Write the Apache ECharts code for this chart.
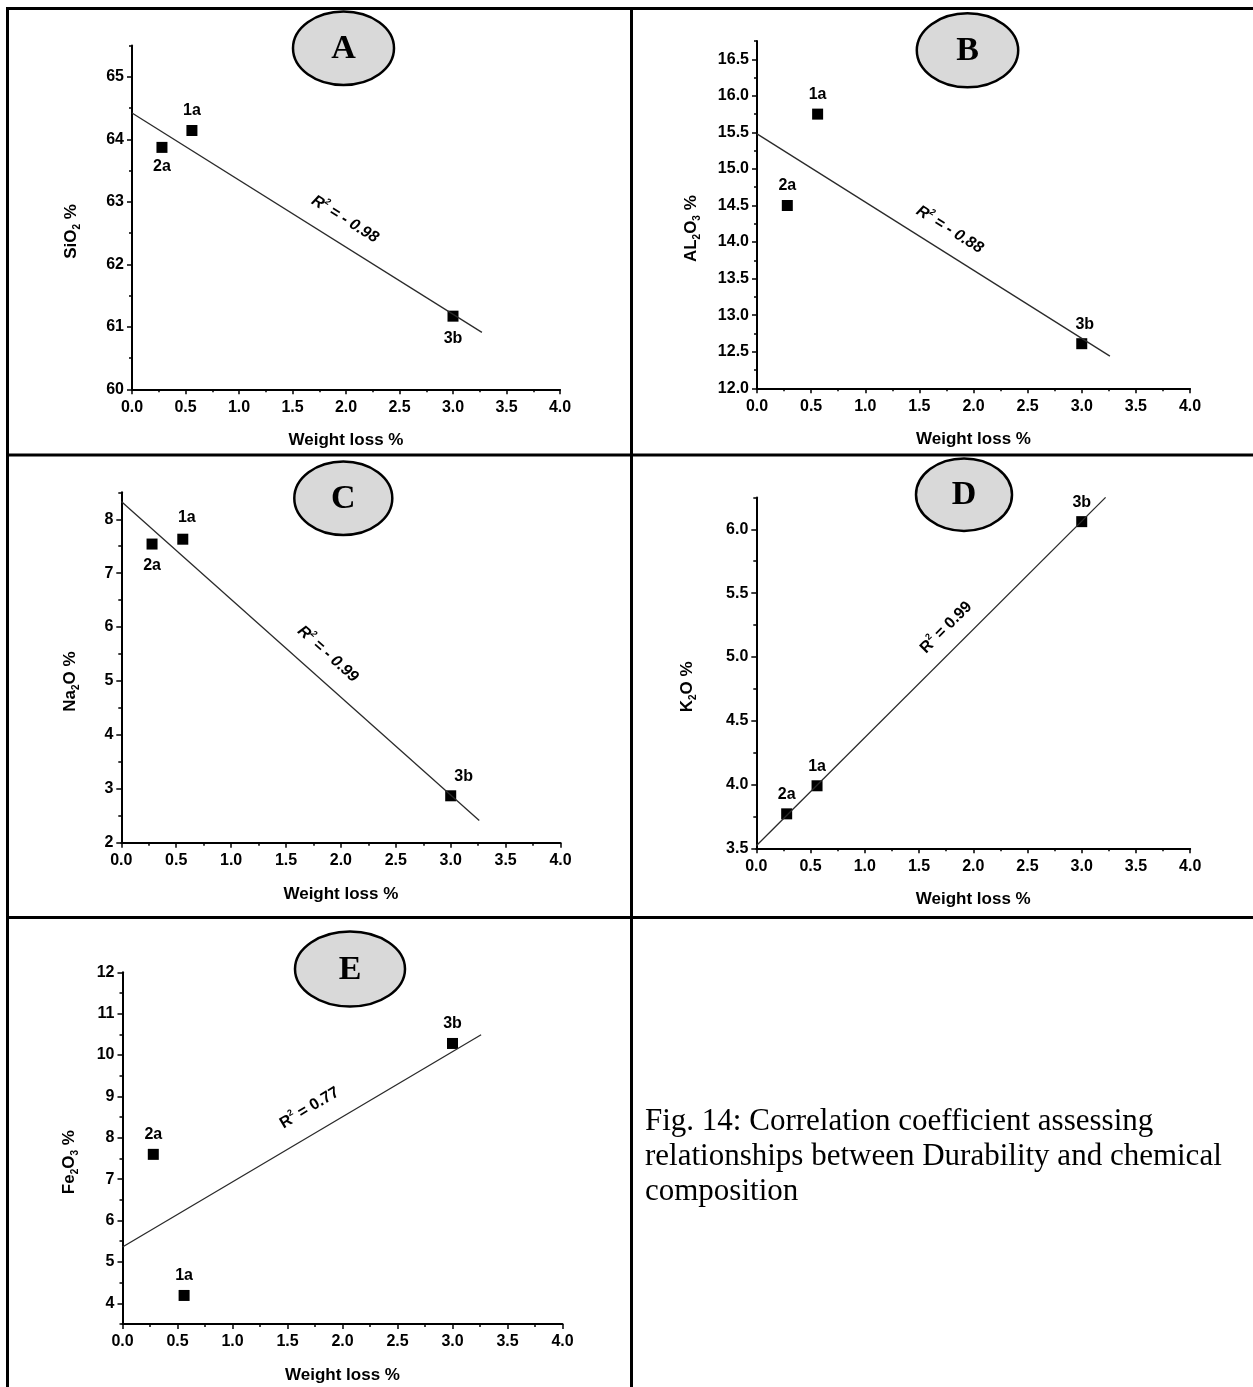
<!DOCTYPE html>
<html><head><meta charset="utf-8">
<script src="https://cdn.jsdelivr.net/npm/echarts@6/dist/echarts.min.js"></script>
<style>html,body{margin:0;padding:0;background:#fff}#c{width:1253px;height:1387px}</style>
</head><body><div id="c"></div>
<script>
// ---------- DATA ----------
const samples = ['1a', '2a', '3b'];
const weightLoss = [0.56, 0.28, 3.0];
const sio2  = [64.14, 63.87, 61.17];
const al2o3 = [15.75, 14.50, 12.61];
const na2o  = [7.63, 7.54, 2.87];
const k2o   = [3.99, 3.77, 6.06];
const fe2o3 = [4.19, 7.60, 10.28];

// fitted lines (end points)
const fitXA = [0, 3.27], fitYA = [64.42, 60.91];
const fitXB = [0, 3.26], fitYB = [15.48, 12.44];
const fitXC = [0, 3.26], fitYC = [8.33, 2.41];
const fitXD = [0, 3.22], fitYD = [3.52, 6.25];
const fitXE = [0, 3.26], fitYE = [5.36, 10.49];

const rValues = ['- 0.98', '- 0.88', '- 0.99', '0.99', '0.77'];
// annotation anchor (data units)
const rPosA = [1.99, 62.72], rPosB = [1.78, 14.17], rPosC = [1.88, 5.50], rPosD = [1.75, 5.23], rPosE = [1.70, 8.72];

// tick labels
const xTicks = [0, 0.5, 1.0, 1.5, 2.0, 2.5, 3.0, 3.5, 4.0];
const xMinor = [0.25, 0.75, 1.25, 1.75, 2.25, 2.75, 3.25, 3.75];
const yTicksA = [60, 61, 62, 63, 64, 65];
const yMinorA = [60.5, 61.5, 62.5, 63.5, 64.5, 65.5];
const yTicksB = [12.0, 12.5, 13.0, 13.5, 14.0, 14.5, 15.0, 15.5, 16.0, 16.5];
const yMinorB = [12.25, 12.75, 13.25, 13.75, 14.25, 14.75, 15.25, 15.75, 16.25, 16.75];
const yTicksC = [2, 3, 4, 5, 6, 7, 8];
const yMinorC = [2.5, 3.5, 4.5, 5.5, 6.5, 7.5, 8.5];
const yTicksD = [3.5, 4.0, 4.5, 5.0, 5.5, 6.0];
const yMinorD = [3.75, 4.25, 4.75, 5.25, 5.75, 6.25];
const yTicksE = [4, 5, 6, 7, 8, 9, 10, 11, 12];
const yMinorE = [3.5, 4.5, 5.5, 6.5, 7.5, 8.5, 9.5, 10.5, 11.5];

// ---------- LAYOUT / STYLE ----------
const panels = [
  {grid:{left:132, top:45.5, width:428, height:343.8}, ymin:60, ymax:65.5, yt:yTicksA, ym:yMinorA, dec:0,
   ys:sio2, fx:fitXA, fy:fitYA, rp:rPosA, rot:-32, it:true, yname:['SiO','2',' %'], nameGap:50,
   lp:['top','bottom','bottom'], lo:[[0,0],[0,0],[0,3]]},
  {grid:{left:757, top:41, width:433, height:347.3}, ymin:12, ymax:16.75, yt:yTicksB, ym:yMinorB, dec:1,
   ys:al2o3, fx:fitXB, fy:fitYB, rp:rPosB, rot:-32, it:true, yname:['AL','2','O','3',' %'], nameGap:55,
   lp:['top','top','top'], lo:[[0,0],[0,0],[3,0]]},
  {grid:{left:121.3, top:492.3, width:439.2, height:350.4}, ymin:2, ymax:8.5, yt:yTicksC, ym:yMinorC, dec:0,
   ys:na2o, fx:fitXC, fy:fitYC, rp:rPosC, rot:-42, it:true, yname:['Na','2','O %'], nameGap:40,
   lp:['top','bottom','top'], lo:[[4,-2],[0,2],[13,0]]},
  {grid:{left:756.3, top:497.4, width:433.9, height:350.9}, ymin:3.5, ymax:6.25, yt:yTicksD, ym:yMinorD, dec:1,
   ys:k2o, fx:fitXD, fy:fitYD, rp:rPosD, rot:45, it:false, yname:['K','2','O %'], nameGap:58,
   lp:['top','top','top'], lo:[[0,0],[0,0],[0,0]]},
  {grid:{left:122.5, top:972.3, width:440, height:351.7}, ymin:3.5, ymax:12, yt:yTicksE, ym:yMinorE, dec:0,
   ys:fe2o3, fx:fitXE, fy:fitYE, rp:rPosE, rot:31, it:false, yname:['Fe','2','O','3',' %'], nameGap:42,
   lp:['top','top','top'], lo:[[0,0],[0,0],[0,0]]}
];

const SANS = '"Liberation Sans", Arial, sans-serif';
const SERIF = '"Liberation Serif", "Times New Roman", serif';
const axisCol = '#000';

function yNameRich(parts) {
  let s = '';
  parts.forEach((p, i) => { s += (i % 2 === 0 ? '{n|' : '{s|') + p + '}'; });
  return s;
}

const grids = [], xAxes = [], yAxes = [], series = [];
panels.forEach((p, i) => {
  grids.push(Object.assign({containLabel:false}, p.grid));
  // main x
  xAxes.push({type:'value', gridIndex:i, position:'bottom', min:0, max:4, interval:0.5,
    axisLine:{show:true, onZero:false, lineStyle:{color:axisCol, width:2}},
    axisTick:{show:true, length:5, lineStyle:{color:axisCol, width:1.5}},
    axisLabel:{show:true, color:'#000', fontFamily:SANS, fontWeight:'bold', fontSize:16, margin:10,
      formatter:v => v.toFixed(1)},
    splitLine:{show:false},
    name:'Weight loss %', nameLocation:'middle', nameGap:43,
    nameTextStyle:{color:'#000', fontFamily:SANS, fontWeight:'bold', fontSize:17}
  });
  // minor x
  xAxes.push({type:'value', gridIndex:i, position:'bottom', min:0, max:4,
    axisLine:{show:false, onZero:false}, axisLabel:{show:false}, splitLine:{show:false},
    axisTick:{show:true, length:3, customValues:xMinor, lineStyle:{color:axisCol, width:1.5}}
  });
  // main y
  yAxes.push({type:'value', gridIndex:i, position:'left', min:p.ymin, max:p.ymax,
    axisLine:{show:true, onZero:false, lineStyle:{color:axisCol, width:2}},
    axisTick:{show:true, length:5, customValues:p.yt, lineStyle:{color:axisCol, width:1.5}},
    axisLabel:{show:true, customValues:p.yt, color:'#000', fontFamily:SANS, fontWeight:'bold', fontSize:16, margin:8,
      formatter:v => v.toFixed(p.dec)},
    splitLine:{show:false},
    name:yNameRich(p.yname), nameLocation:'middle', nameGap:p.nameGap,
    nameTextStyle:{padding:[0,28,0,0], rich:{
      n:{fontFamily:SANS, fontWeight:'bold', fontSize:17, color:'#000', lineHeight:22},
      s:{fontFamily:SANS, fontWeight:'bold', fontSize:10, color:'#000', lineHeight:22, verticalAlign:'bottom', padding:[8,0,0,0]}
    }}
  });
  // minor y
  yAxes.push({type:'value', gridIndex:i, position:'left', min:p.ymin, max:p.ymax,
    axisLine:{show:false, onZero:false}, axisLabel:{show:false}, splitLine:{show:false},
    axisTick:{show:true, length:3, customValues:p.ym, lineStyle:{color:axisCol, width:1.5}}
  });
  const xi = i * 2, yi = i * 2;
  series.push({type:'line', xAxisIndex:xi, yAxisIndex:yi, symbol:'none', silent:true,
    lineStyle:{color:'#2a2a2a', width:1.3},
    data:p.fx.map((x, k) => [x, p.fy[k]])});
  series.push({type:'scatter', xAxisIndex:xi, yAxisIndex:yi, symbol:'rect', symbolSize:11,
    itemStyle:{color:'#000', opacity:1},
    data:samples.map((s, k) => ({value:[weightLoss[k], p.ys[k]], name:s,
      label:{show:true, position:p.lp[k], offset:p.lo[k], distance:6, formatter:s,
        color:'#000', fontFamily:SANS, fontWeight:'bold', fontSize:16}}))});
  const fs = p.it ? 'italic' : 'normal';
  series.push({type:'scatter', xAxisIndex:xi, yAxisIndex:yi, symbolSize:0, silent:true,
    itemStyle:{opacity:1},
    data:[{value:p.rp, label:{show:true, position:'inside', rotate:p.rot,
      formatter:'{r|R}{p|2}{r| = ' + rValues[i] + '}',
      rich:{
        r:{fontFamily:SANS, fontWeight:'bold', fontStyle:fs, fontSize:16, color:'#000', lineHeight:20},
        p:{fontFamily:SANS, fontWeight:'bold', fontStyle:fs, fontSize:9, color:'#000', lineHeight:20, verticalAlign:'top', padding:[0,0,8,0]}
      }}}]});
});

// ---------- decorations ----------
const graphic = [
  {type:'rect', shape:{x:6, y:7, width:1247, height:3}, style:{fill:'#000'}},
  {type:'rect', shape:{x:6, y:7, width:3, height:1380}, style:{fill:'#000'}},
  {type:'rect', shape:{x:630, y:7, width:3, height:1380}, style:{fill:'#000'}},
  {type:'rect', shape:{x:6, y:453.5, width:1247, height:3}, style:{fill:'#000'}},
  {type:'rect', shape:{x:6, y:916, width:1247, height:3}, style:{fill:'#000'}}
];
const ells = [
  ['A', 343.5, 48.3, 50.5, 36.7],
  ['B', 967.5, 50.3, 50.7, 37],
  ['C', 343.3, 498.3, 49, 36.7],
  ['D', 964, 494.7, 48, 36.3],
  ['E', 350, 969, 55, 37.5]
];
ells.forEach(e => {
  graphic.push({type:'ellipse', shape:{cx:e[1], cy:e[2], rx:e[3], ry:e[4]},
    style:{fill:'#d9d9d9', stroke:'#000', lineWidth:2.5}, z:10});
  graphic.push({type:'text', x:e[1], y:e[2] + 1, z:11,
    style:{text:e[0], fill:'#000', font:'bold 34px ' + SERIF, align:'center', verticalAlign:'middle'}});
});
graphic.push({type:'text', left:645, top:1104, z:11,
  style:{text:'Fig. 14: Correlation coefficient assessing\nrelationships between Durability and chemical\ncomposition',
    fill:'#000', font:'31px ' + SERIF, lineHeight:35}});

const chart = echarts.init(document.getElementById('c'), null, {renderer:'canvas'});
chart.setOption({
  backgroundColor:'#fff', animation:false,
  grid:grids, xAxis:xAxes, yAxis:yAxes, series:series, graphic:graphic
});
</script></body></html>
